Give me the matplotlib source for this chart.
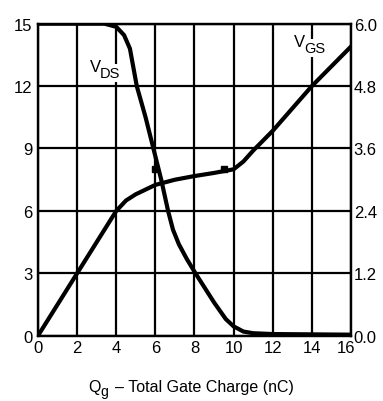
"""
Gate charge characteristic: V_DS and V_GS versus total gate charge.
"""
import matplotlib
matplotlib.use("Agg")
import matplotlib.pyplot as plt
import matplotlib.transforms as mtransforms

# ----- data -----
qg_vds = [0, 3.4, 4.0, 4.4, 4.7, 5.05, 5.5, 5.9, 6.3, 6.65, 6.9, 7.2, 7.6, 8.05, 9.0, 9.6, 10.0, 10.5, 11.0, 12.0, 16.0]
vds = [15, 15, 14.85, 14.45, 13.8, 12, 10.5, 9, 7.5, 6, 5.1, 4.4, 3.7, 3.0, 1.6, 0.8, 0.45, 0.2, 0.12, 0.08, 0.05]

qg_vgs = [0, 2, 4, 4.5, 5, 6, 7, 8, 9, 10, 10.5, 11, 12, 14, 16]
vgs = [0, 1.2, 2.4, 2.6, 2.72, 2.9, 3.0, 3.07, 3.13, 3.2, 3.35, 3.56, 3.94, 4.8, 5.56]

marker_q = [6.0, 9.5]
marker_v = [8.0, 8.0]

x_ticks = [0, 2, 4, 6, 8, 10, 12, 14, 16]
left_ticks = [0, 3, 6, 9, 12, 15]
right_ticks = [0.0, 1.2, 2.4, 3.6, 4.8, 6.0]

plt.rcParams["font.family"] = ["Liberation Sans", "DejaVu Sans"]
fs = 12


def sub_label(ax, x, y, main, sub):
    # "V" plus a nearly full-size, lowered subscript; (x, y) is where they meet
    ax.annotate(sub, (x, y), xytext=(-0.8, -2.5), textcoords="offset points",
                fontsize=fs * 0.88, ha="left", va="center", zorder=5,
                bbox=dict(facecolor="white", edgecolor="none", pad=1.5))
    ax.annotate(main, (x, y), xytext=(0, 2), textcoords="offset points",
                fontsize=fs, ha="right", va="center", zorder=6)


fig = plt.figure(figsize=(3.83, 4.02), dpi=100)
ax = fig.add_axes([0.0992, 0.1624, 0.8172, 0.7762])
ax2 = ax.twinx()

ax.set_xlim(0, 16)
ax.set_ylim(0, 15)
ax2.set_ylim(0, 6)

ax.set_xticks(x_ticks)
ax.set_yticks(left_ticks)
ax2.set_yticks(right_ticks)
ax2.set_yticklabels([f"{t:.1f}" for t in right_ticks])

ax.grid(True, color="black", lw=1.6)
ax.set_axisbelow(True)
for a in (ax, ax2):
    a.tick_params(length=0, labelsize=fs, colors="black")
    for s in a.spines.values():
        s.set_linewidth(1.6)
ax.tick_params(axis="y", pad=4)
ax.tick_params(axis="x", pad=3)
ax2.tick_params(axis="y", pad=2)

# the last x label sits a little left of its gridline, clear of "0.0"
last = ax.get_xticklabels()[-1]
last.set_transform(last.get_transform()
                   + mtransforms.ScaledTranslation(-5 / 100, 0, fig.dpi_scale_trans))

ax.plot(qg_vds, vds, color="black", lw=3, solid_joinstyle="round", zorder=3)
ax2.plot(qg_vgs, vgs, color="black", lw=3, solid_joinstyle="round", zorder=3)
ax.plot(marker_q, marker_v, ls="none", marker="s", ms=4.5, color="black", zorder=4)

sub_label(ax, 3.22, 12.8, "V", "DS")
sub_label(ax, 13.66, 14.0, "V", "GS")

fs_lab = 11.5
fig.text(0.230, 0.037, "Q", fontsize=fs_lab, ha="left", va="center")
fig.text(0.262, 0.026, "g", fontsize=fs_lab * 0.88, ha="left", va="center")
fig.text(0.301, 0.037, "– Total Gate Charge (nC)", fontsize=fs_lab, ha="left", va="center")

plt.savefig("out.png", dpi=100)
plt.close()
